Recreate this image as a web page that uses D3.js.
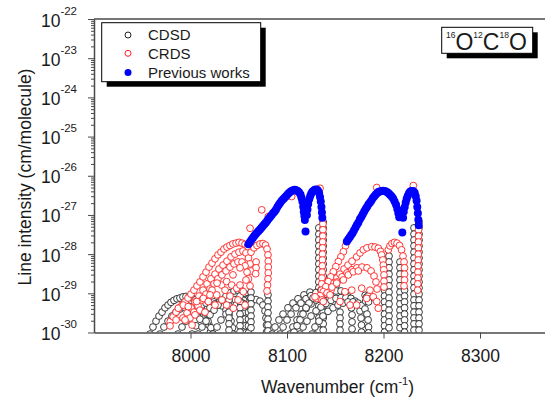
<!DOCTYPE html>
<html><head><meta charset="utf-8">
<script src="https://cdn.jsdelivr.net/npm/d3@7"></script>
<style>
html,body{margin:0;padding:0;background:#fff;}
svg{display:block;font-family:"Liberation Sans",Arial,sans-serif;}
</style></head><body>
<svg id="chart" width="545" height="398"></svg>
<script>
// ---- data: [wavenumber (cm-1), log10 line intensity (cm/molecule)] ----
const xTickValues = [8000, 8100, 8200, 8300];
const yExponents = [-30, -29, -28, -27, -26, -25, -24, -23, -22];
const legendLabels = ["CDSD", "CRDS", "Previous works"];

const prevWorksBand1 = [
[8060,-27.75],[8061.5,-27.70],[8063,-27.64],[8064.5,-27.59],[8066,-27.54],[8067.5,-27.49],[8069,-27.45],[8070.5,-27.41],[8072,-27.37],[8073.5,-27.33],[8075,-27.28],[8076.5,-27.24],[8078,-27.20],[8079.5,-27.15],[8081,-27.10],[8082.5,-27.05],[8084,-27.01],[8085.5,-26.96],[8087,-26.92],[8088.5,-26.87],[8090,-26.80],[8091.5,-26.74],[8093,-26.69],[8094.5,-26.64],[8096,-26.60],[8097.5,-26.56],[8099,-26.52],[8100.5,-26.48],[8102,-26.44],[8103.5,-26.41],[8105,-26.38],[8106.5,-26.37],[8108,-26.36],[8109.5,-26.37],[8111,-26.39],[8112.5,-26.42],[8114,-26.48],[8115,-26.56],[8116,-26.66],[8116.8,-26.79],[8117.4,-26.92],[8118,-27.03],[8118.5,-27.13],
[8119.2,-27.42],
[8120.6,-27.00],[8121.2,-26.86],[8122,-26.72],[8123,-26.60],[8124,-26.52],[8125,-26.46],[8126.2,-26.41],[8127.5,-26.38],[8128.8,-26.36],[8130,-26.35],[8131.2,-26.36],[8132.3,-26.39],[8133.3,-26.44],[8134.2,-26.54],[8135,-26.66],[8135.7,-26.80],[8136.2,-26.94],[8136.6,-27.07]
];
const prevWorksBand2 = [
[8162,-27.68],[8163.5,-27.62],[8165,-27.57],[8166.5,-27.51],[8168,-27.46],[8169.5,-27.39],[8171,-27.32],[8172.5,-27.25],[8174,-27.19],[8175.5,-27.11],[8177,-27.05],[8178.5,-26.98],[8180,-26.91],[8181.5,-26.85],[8183,-26.79],[8184.5,-26.73],[8186,-26.68],[8187.5,-26.63],[8189,-26.57],[8190.5,-26.52],[8192,-26.48],[8193.5,-26.44],[8195,-26.41],[8196.5,-26.40],[8198,-26.39],[8199.5,-26.38],[8201,-26.39],[8202.5,-26.40],[8204,-26.42],[8205.5,-26.45],[8207,-26.49],[8208.5,-26.53],[8210,-26.58],[8211.5,-26.66],[8213,-26.74],[8214.3,-26.85],[8215.4,-26.96],[8216.3,-27.06],
[8219.5,-27.45],
[8220.3,-27.07],[8221,-26.92],[8222,-26.80],[8223,-26.68],[8224,-26.59],[8225.2,-26.51],[8226.5,-26.44],[8227.8,-26.40],[8229,-26.39],[8230.2,-26.39],[8231.3,-26.40],[8232.4,-26.44],[8233.4,-26.52],[8234.3,-26.64],[8235,-26.80],[8235.6,-26.96],[8236.1,-27.12],[8236.5,-27.26]
];

const crdsBand1 = [
[7979.0,-29.72],[7982.0,-29.60],
[7985.0,-29.48],[7988.1,-29.37],[7991.2,-29.30],[7994.3,-29.22],[7997.4,-29.12],[8000.5,-29.02],[8003.6,-28.92],[8006.7,-28.81],[8009.8,-28.71],[8013.0,-28.58],[8016.1,-28.46],[8019.2,-28.33],[8022.3,-28.23],[8025.4,-28.12],[8028.5,-28.02],[8031.6,-27.95],[8034.7,-27.87],[8037.8,-27.82],[8040.9,-27.78],[8044.0,-27.74],[8047.2,-27.72],[8050.3,-27.70],[8053.4,-27.72],[8056.5,-27.75],[8059.1,-27.81],
[7992.2,-29.63],[7996.4,-29.50],[8000.5,-29.37],[8004.7,-29.22],[8008.8,-29.07],[8013.0,-28.92],[8017.1,-28.76],[8021.2,-28.63],[8025.4,-28.51],[8029.5,-28.38],[8033.7,-28.28],[8037.8,-28.18],[8042.0,-28.07],[8046.1,-28.00],[8050.3,-27.95],[8054.4,-27.92],[8057.5,-27.97],[8060.1,-28.10],[8061.7,-28.25],[8062.7,-28.43],
[7999.5,-29.63],[8003.6,-29.48],[8007.8,-29.32],[8011.9,-29.17],[8016.1,-29.02],[8020.2,-28.89],[8024.4,-28.76],[8028.5,-28.63],[8032.6,-28.53],[8036.8,-28.43],[8040.9,-28.33],[8045.1,-28.25],[8049.2,-28.20],[8053.4,-28.20],[8056.5,-28.30],[8058.6,-28.46],[8060.1,-28.63],[8061.7,-28.81],
[8062.7,-27.95],[8065.8,-27.84],[8068.9,-27.78],[8072.0,-27.74],[8075.1,-27.73],[8077.7,-27.77],[8079.3,-27.87],[8080.3,-28.02],[8080.6,-28.18],[8080.6,-28.33],[8080.6,-28.48],[8080.3,-28.63],[8079.8,-28.79],[8079.3,-28.94],
[8068.0,-28.20],[8068.0,-28.35],[8067.5,-28.50],
[7987.4,-29.38],[7992.5,-29.30],[7997.7,-29.34],[8006.4,-29.21],[8013.3,-29.13],[8018.5,-29.21],[8027.2,-29.04],[8032.3,-28.79],[8037.5,-28.70],[8042.7,-28.79],[8047.9,-28.87],[8051.3,-28.79],[8054.7,-28.96],[8037.5,-29.30],[8044.4,-29.38],[8022.3,-28.92],[8009.8,-29.43],[8001.6,-29.81],[7978.8,-29.83],[7985.0,-29.68],
[8015.0,-29.48],[8025.4,-29.30],[8032.6,-29.17],[8040.9,-29.07],[8049.2,-29.17],[8056.5,-29.30],[8020.2,-29.04],[8035.8,-28.92],[8044.0,-28.53],[8051.3,-28.35],[8057.5,-28.66],[8004.7,-29.55],[7994.3,-29.68],[8027.5,-28.74],
[8061.7,-27.34],[8073.8,-26.87],[8080.6,-27.04],[8104.8,-26.53],[8134.2,-26.32],
[8137.2,-27.23],[8137.2,-27.38],[8137.1,-27.54],[8137.0,-27.69],[8136.9,-27.84],[8136.8,-28.00],[8136.7,-28.15],[8136.6,-28.30],[8136.4,-28.46],[8136.2,-28.61],[8136.0,-28.76],[8135.8,-28.92],[8135.6,-29.07]
];
const crdsBand2 = [
[8160.6,-27.79],[8158.4,-27.94],[8155.8,-28.07],[8153.2,-28.19],[8150.6,-28.32],[8148.0,-28.45],[8145.4,-28.58],[8142.8,-28.70],[8140.2,-28.83],[8137.6,-28.96],[8134.2,-29.06],[8130.8,-29.13],
[8145.6,-28.92],[8148.7,-28.74],[8151.8,-28.61],[8154.9,-28.51],[8159.1,-28.38],[8163.2,-28.28],[8167.4,-28.18],[8172.2,-28.07],[8175.7,-27.97],[8179.1,-27.89],[8182.9,-27.84],[8187.8,-27.81],[8191.2,-27.82],[8194.6,-27.85],[8196.9,-27.93],[8198.1,-28.02],[8199.3,-28.15],[8199.8,-28.28],[8200.3,-28.40],[8200.5,-28.53],[8200.5,-28.69],[8200.5,-28.84],
[8136.3,-29.17],[8141.5,-28.99],[8146.6,-28.84],[8151.8,-28.71],[8157.0,-28.58],[8162.2,-28.48],[8167.4,-28.40],[8172.5,-28.35],[8177.7,-28.33],[8182.9,-28.35],[8187.1,-28.43],[8190.2,-28.56],[8192.2,-28.71],[8193.3,-28.89],
[8205.0,-27.89],[8206.7,-27.79],[8208.8,-27.73],[8211.4,-27.70],[8214.0,-27.72],[8216.6,-27.78],[8218.7,-27.89],[8220.2,-28.05],[8221.3,-28.20],[8221.8,-28.35],[8221.8,-28.51],[8221.8,-28.66],[8221.3,-28.81],
[8151.5,-28.74],[8158.4,-28.66],[8163.5,-28.53],[8168.7,-28.45],[8173.9,-28.43],[8154.9,-29.21],[8165.3,-29.30],[8172.2,-29.30],[8182.6,-29.13],[8189.4,-29.09],[8193.0,-29.21],[8194.6,-29.38],[8144.6,-29.04],[8137.6,-29.21],[8129.0,-29.09],[8160.1,-28.96],[8167.1,-28.92],[8177.4,-28.87],[8186.0,-28.92],
[8193.0,-26.30],[8230.9,-26.25],
[8236.3,-27.38],[8236.3,-27.54],[8236.2,-27.69],[8236.1,-27.84],[8236.0,-28.00],[8235.9,-28.15],[8235.8,-28.30],[8235.7,-28.46],[8235.6,-28.61],[8235.5,-28.76],[8235.4,-28.92]
];

const cdsdBand1 = [
[7958.0,-30.04],[7961.1,-29.86],[7964.3,-29.71],[7967.4,-29.58],[7970.5,-29.48],[7973.6,-29.37],[7976.7,-29.30],[7979.8,-29.23],[7982.9,-29.18],[7986.0,-29.14],[7989.1,-29.12],[7992.2,-29.09],[7995.3,-29.08],[7998.4,-29.09],[8001.6,-29.12],[8004.7,-29.17],[8007.8,-29.25],[8010.9,-29.35],[8014.0,-29.48],[8017.1,-29.63],[8019.2,-29.81],[8020.7,-29.99],
[7968.4,-30.04],[7972.5,-29.86],[7976.7,-29.71],[7980.8,-29.58],[7985.0,-29.48],[7989.1,-29.40],[7993.3,-29.35],[7997.4,-29.32],[8001.6,-29.34],[8005.7,-29.37],[8009.8,-29.45],[8014.0,-29.55],[8018.1,-29.71],[8021.2,-29.88],[8023.3,-30.04],
[7987.0,-30.04],[7991.2,-29.86],[7995.3,-29.71],[7999.5,-29.58],[8003.6,-29.48],[8007.8,-29.37],[8011.9,-29.30],[8016.1,-29.25],[8020.2,-29.22],[8024.4,-29.22],[8028.5,-29.26],[8032.6,-29.32],[8036.8,-29.43],[8039.9,-29.55],[8042.0,-29.71],[8043.5,-29.88],[8044.0,-30.04],
[8001.6,-30.04],[8005.7,-29.83],[8009.8,-29.66],[8015.0,-29.50],[8020.2,-29.37],[8025.4,-29.27],[8030.6,-29.20],[8035.8,-29.14],[8040.9,-29.13],[8046.1,-29.16],[8050.3,-29.22],[8053.4,-29.32],[8055.4,-29.48],[8056.5,-29.66],[8057.0,-29.83],[8057.0,-30.01],
[8007.8,-30.04],[8011.9,-29.86],[8016.1,-29.71],[8020.2,-29.55],[8024.4,-29.43],[8028.5,-29.30],[8032.6,-29.17],[8036.8,-29.07],[8040.9,-28.99],[8045.1,-28.94],[8049.2,-28.92],[8053.4,-28.94],[8056.5,-29.02],[8058.6,-29.14],[8059.6,-29.30],[8060.1,-29.48],[8060.1,-29.66],[8060.1,-29.83],[8060.1,-30.01],
[8023.3,-30.04],[8027.5,-29.86],[8031.6,-29.68],[8036.8,-29.53],[8042.0,-29.40],[8047.2,-29.30],[8052.3,-29.22],[8057.5,-29.17],[8062.7,-29.14],[8067.9,-29.16],[8072.0,-29.20],[8075.1,-29.30],[8077.2,-29.45],[8078.2,-29.63],[8078.8,-29.81],[8078.8,-29.99],
[8052.0,-29.15],[8053.5,-29.20],[8055.0,-29.18],[8054.0,-29.25],[8056.0,-29.28],[8052.5,-29.30],[8055.5,-29.35],
[8039.9,-29.17],[8039.9,-29.32],[8039.9,-29.48],[8039.9,-29.63],[8039.9,-29.78],[8039.9,-29.94],
[8051.3,-29.07],[8051.3,-29.22],[8051.3,-29.37],[8051.3,-29.53],[8051.3,-29.68],[8051.3,-29.83],[8051.3,-29.99],
[8062.7,-28.97],[8062.7,-29.12],[8062.7,-29.27],[8062.7,-29.43],[8062.7,-29.58],[8062.7,-29.73],[8062.7,-29.88],
[8080.3,-29.04],[8080.3,-29.20],[8080.3,-29.35],[8080.3,-29.50],[8080.3,-29.66],[8080.3,-29.81],[8080.3,-29.96],
[8133.0,-27.33],[8133.0,-27.49],[8133.0,-27.64],[8133.0,-27.79],[8133.0,-27.95],[8133.0,-28.10],[8133.0,-28.25],[8133.0,-28.40],[8133.0,-28.56],[8133.0,-28.71],[8133.0,-28.86],[8133.0,-29.02],[8133.0,-29.17],[8133.0,-29.32],[8133.0,-29.48],[8133.0,-29.63],[8133.0,-29.78],[8133.0,-29.94],
[8137.5,-27.18],[8137.5,-27.33],[8137.5,-27.49],[8137.5,-27.64],[8137.5,-27.79],[8137.5,-27.95],[8137.5,-28.10],[8137.5,-28.25],[8137.5,-28.40],[8137.5,-28.56],[8137.5,-28.71],[8137.5,-28.86],[8137.5,-29.02],[8137.5,-29.17],[8137.5,-29.32],[8137.5,-29.48],[8137.5,-29.63],[8137.5,-29.78],[8137.5,-29.94]
];
const cdsdBand2 = [
[8084.5,-30.04],[8087.6,-29.86],[8091.7,-29.68],[8095.9,-29.53],[8101.0,-29.37],[8106.2,-29.25],[8111.4,-29.14],[8117.6,-29.04],[8123.8,-28.97],
[8092.8,-30.04],[8095.9,-29.86],[8100.0,-29.68],[8104.2,-29.53],[8109.3,-29.37],[8114.5,-29.25],[8119.7,-29.14],[8124.9,-29.06],[8130.1,-28.98],[8135.2,-28.92],[8140.4,-28.86],[8145.6,-28.83],[8150.8,-28.80],
[8103.1,-30.04],[8106.2,-29.86],[8110.4,-29.68],[8114.5,-29.53],[8119.7,-29.39],[8124.9,-29.27],[8130.1,-29.17],[8135.2,-29.08],[8140.4,-29.02],[8145.6,-28.97],[8150.8,-28.94],[8156.0,-28.94],[8160.1,-28.99],[8163.2,-29.09],[8165.3,-29.22],[8166.8,-29.37],[8167.4,-29.55],[8167.4,-29.73],[8167.4,-29.91],
[8113.5,-30.04],[8116.6,-29.86],[8120.7,-29.71],[8124.9,-29.58],[8130.1,-29.45],[8135.2,-29.35],[8140.4,-29.26],[8145.6,-29.18],[8150.8,-29.13],[8156.0,-29.11],[8161.1,-29.11],[8166.3,-29.13],[8170.5,-29.20],[8173.6,-29.30],[8175.7,-29.45],[8176.7,-29.63],[8177.2,-29.81],[8177.2,-29.99],
[8125.9,-30.04],[8129.0,-29.86],[8133.2,-29.71],[8137.3,-29.58],[8142.5,-29.46],[8147.7,-29.37],[8152.9,-29.30],[8158.0,-29.25],[8163.2,-29.22],[8168.4,-29.22],[8173.6,-29.25],[8177.7,-29.31],[8180.8,-29.40],[8182.9,-29.53],[8184.0,-29.68],[8184.5,-29.86],[8184.5,-30.01],
[8127.0,-29.12],[8122.8,-29.25],[8119.7,-29.37],[8116.6,-29.53],[8113.5,-29.68],[8110.4,-29.83],[8107.3,-29.99],
[8181.0,-29.05],[8182.5,-29.10],[8184.0,-29.07],[8183.0,-29.15],[8185.0,-29.15],[8181.5,-29.20],[8184.5,-29.22],
[8154.9,-29.48],[8154.9,-29.63],[8154.9,-29.78],[8154.9,-29.94],
[8201.0,-28.92],[8201.0,-29.07],[8201.0,-29.22],[8201.0,-29.37],[8201.0,-29.53],[8201.0,-29.68],[8201.0,-29.83],[8201.0,-29.99],
[8205.7,-28.05],[8205.7,-28.20],[8205.7,-28.35],[8205.7,-28.51],[8205.7,-28.66],[8205.7,-28.81],[8205.7,-28.97],[8205.7,-29.12],[8205.7,-29.27],[8205.7,-29.43],[8205.7,-29.58],[8205.7,-29.73],[8205.7,-29.88],
[8217.1,-28.20],[8217.1,-28.35],[8217.1,-28.51],[8217.1,-28.66],[8217.1,-28.81],[8217.1,-28.97],[8217.1,-29.12],[8217.1,-29.27],[8217.1,-29.43],[8217.1,-29.58],[8217.1,-29.73],[8217.1,-29.88],
[8221.8,-28.92],[8221.8,-29.07],[8221.8,-29.22],[8221.8,-29.37],[8221.8,-29.53],[8221.8,-29.68],[8221.8,-29.83],[8221.8,-29.99],
[8231.6,-27.33],[8231.6,-27.49],[8231.6,-27.64],[8231.6,-27.79],[8231.6,-27.95],[8231.6,-28.10],[8231.6,-28.25],[8231.6,-28.40],[8231.6,-28.56],[8231.6,-28.71],[8231.6,-28.86],[8231.6,-29.02],[8231.6,-29.17],[8231.6,-29.32],[8231.6,-29.48],[8231.6,-29.63],[8231.6,-29.78],[8231.6,-29.94],
[8236.8,-27.18],[8236.8,-27.33],[8236.8,-27.49],[8236.8,-27.64],[8236.8,-27.79],[8236.8,-27.95],[8236.8,-28.10],[8236.8,-28.25],[8236.8,-28.40],[8236.8,-28.56],[8236.8,-28.71],[8236.8,-28.86],[8236.8,-29.02],[8236.8,-29.17],[8236.8,-29.32],[8236.8,-29.48],[8236.8,-29.63],[8236.8,-29.78],[8236.8,-29.94]
];

// ---- drawing ----
const svg = d3.select("#chart");
const textColor = "#1a1a1a", axisColor = "#4a4a4a";
const x = d3.scaleLinear().domain([7900, 8400]).range([94, 576.5]);
const y = d3.scaleLog().domain([1e-30, 1e-22]).range([332.5, 19]);
const S = v => Math.pow(10, v);

svg.append("defs").append("clipPath").attr("id", "plotclip")
  .append("rect").attr("x", 94).attr("y", 19).attr("width", 460).attr("height", 313.5);

const plot = svg.append("g").attr("clip-path", "url(#plotclip)");
function drawSeries(data, r, fill, stroke, sw) {
  plot.append("g").selectAll("circle").data(data).join("circle")
    .attr("cx", d => x(d[0])).attr("cy", d => y(S(d[1])))
    .attr("r", r).attr("fill", fill).attr("stroke", stroke).attr("stroke-width", sw);
}
drawSeries(cdsdBand1.concat(cdsdBand2), 3.4, "#fff", "#222", 0.9);
drawSeries(crdsBand1.concat(crdsBand2), 3.4, "#fff", "#ff2020", 0.9);
drawSeries(prevWorksBand1.concat(prevWorksBand2), 4, "#0000ff", "none", 0);

// axes
const majorY = yExponents.map(e => Math.pow(10, e));
const minorY = [];
yExponents.slice(0, -1).forEach(e => { for (let k = 2; k <= 9; k++) minorY.push(k * Math.pow(10, e)); });

const yMinor = svg.append("g").attr("transform", "translate(94,0)")
  .call(d3.axisLeft(y).tickValues(minorY).tickSize(3).tickSizeOuter(0).tickFormat(""));
yMinor.select(".domain").remove();
const yMajor = svg.append("g").attr("transform", "translate(94,0)")
  .call(d3.axisLeft(y).tickValues(majorY).tickSize(6).tickSizeOuter(0).tickFormat(""));
const xAxis = svg.append("g").attr("transform", "translate(0,332.5)")
  .call(d3.axisBottom(x).tickValues(xTickValues).tickSize(6).tickSizeOuter(0).tickPadding(11).tickFormat(d3.format("d")));
[yMinor, yMajor, xAxis].forEach(a => {
  a.selectAll(".tick line").attr("stroke", axisColor).attr("stroke-width", 1);
  a.selectAll(".domain").attr("stroke", axisColor).attr("stroke-width", 1.5);
});
xAxis.selectAll("text").attr("font-size", 17.5).attr("fill", textColor)
  .attr("font-family", "'Liberation Sans', Arial, sans-serif");
svg.append("line").attr("x1", 94).attr("x2", 545).attr("y1", 19).attr("y2", 19)
  .attr("stroke", axisColor).attr("stroke-width", 1.5);

// y tick labels 10^n
yExponents.forEach(e => {
  const t = svg.append("text").attr("x", 77).attr("y", y(Math.pow(10, e)) + 7.5)
    .attr("text-anchor", "end").attr("fill", textColor);
  t.append("tspan").attr("font-size", 17.5).text("10");
  t.append("tspan").attr("font-size", 11.5).attr("dy", -12).text(String(e));
});

// axis titles
svg.append("text").attr("transform", "translate(31,177) rotate(-90)")
  .attr("text-anchor", "middle").attr("font-size", 17.5).attr("fill", textColor)
  .text("Line intensity (cm/molecule)");
const xt = svg.append("text").attr("x", 337.5).attr("y", 393).attr("text-anchor", "middle")
  .attr("font-size", 17.5).attr("fill", textColor);
xt.append("tspan").text("Wavenumber (cm");
xt.append("tspan").attr("font-size", 11).attr("dy", -8).text("-1");
xt.append("tspan").attr("dy", 8).text(")");

// legend
const lg = svg.append("g");
lg.append("rect").attr("x", 106.7).attr("y", 27.7).attr("width", 159).attr("height", 59).attr("fill", "#000");
lg.append("rect").attr("x", 101.7).attr("y", 22.7).attr("width", 159).attr("height", 59)
  .attr("fill", "#fff").attr("stroke", "#000").attr("stroke-width", 1);
const legendStyle = [
  {fill: "#fff", stroke: "#222", r: 3, cy: 35},
  {fill: "#fff", stroke: "#ff2020", r: 3, cy: 53.3},
  {fill: "#0000ff", stroke: "none", r: 3.5, cy: 72.5}
];
legendLabels.forEach((lab, i) => {
  const s = legendStyle[i];
  lg.append("circle").attr("cx", 128).attr("cy", s.cy).attr("r", s.r)
    .attr("fill", s.fill).attr("stroke", s.stroke).attr("stroke-width", 1);
  lg.append("text").attr("x", 148).attr("y", s.cy + 5.3).attr("font-size", 15)
    .attr("fill", textColor).text(lab);
});

// isotopologue label
const ib = svg.append("g");
ib.append("rect").attr("x", 446.7).attr("y", 32.3).attr("width", 91).attr("height", 26).attr("fill", "#000");
ib.append("rect").attr("x", 441.7).attr("y", 27.3).attr("width", 91).attr("height", 26)
  .attr("fill", "#fff").attr("stroke", "#000").attr("stroke-width", 1);
const it = ib.append("text").attr("x", 446).attr("y", 50).attr("fill", textColor);
[["16", "O"], ["12", "C"], ["18", "O"]].forEach(([m, a]) => {
  it.append("tspan").attr("font-size", 8.5).attr("dy", -12).text(m);
  it.append("tspan").attr("font-size", 23).attr("dy", 12).text(a);
});
</script>
</body></html>
